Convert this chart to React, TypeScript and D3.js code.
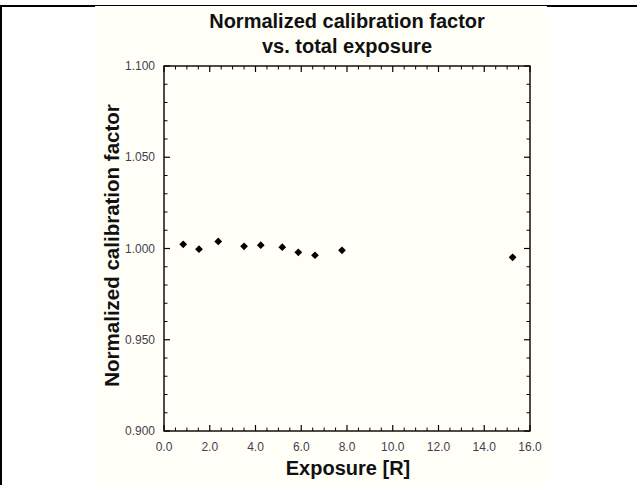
import React from "react"
import * as d3 from "d3"

const WIDTH = 637
const HEIGHT = 485

// exposure [R] and normalized calibration factor
const exposure = [0.84, 1.53, 2.37, 3.5, 4.23, 5.17, 5.87, 6.6, 7.78, 15.24]
const calFactor = [1.0023, 0.9996, 1.0039, 1.0012, 1.0018, 1.0007, 0.9979, 0.9963, 0.999, 0.9952]

const xMajorTicks = [0, 2, 4, 6, 8, 10, 12, 14, 16]
const yMajorTicks = [0.9, 0.95, 1.0, 1.05, 1.1]

const titleLines = ["Normalized calibration factor", "vs. total exposure"]
const xLabel = "Exposure [R]"
const yLabel = "Normalized calibration factor"

const FONT = "'Liberation Sans', Arial, sans-serif"
const TICK_COLOR = "#3f3f50"

export default function App() {
  const margin = { top: 66, right: 107, bottom: 54, left: 164 }
  const innerW = WIDTH - margin.left - margin.right
  const innerH = HEIGHT - margin.top - margin.bottom

  const x = d3.scaleLinear().domain([0, 16]).range([0, innerW])
  const y = d3.scaleLinear().domain([0.9, 1.1]).range([innerH, 0])

  const xMinor = d3.range(0, 16.001, 0.5).filter(v => Math.abs(v % 2) > 1e-6)
  const yMinor = d3.range(0.9, 1.1001, 0.01).filter(v => {
    const r = Math.round(v * 1000) % 50
    return r !== 0
  })

  const diamond = d3.symbol().type(d3.symbolSquare).size(30)()

  const MAJ = 6
  const MIN = 3.5

  return (
    <svg
      width={WIDTH}
      height={HEIGHT}
      style={{ position: "absolute", left: 0, top: 0, display: "block", background: "#ffffff" }}
      fontFamily={FONT}
    >
      {/* cream picture area and frame */}
      <rect x={95} y={6} width={452} height={HEIGHT - 6} fill="#fffff8" />
      <line x1={0} x2={95} y1={6} y2={6} stroke="#000" strokeWidth={2} />
      <line x1={95} x2={547} y1={5.5} y2={5.5} stroke="#000" strokeWidth={1} />
      <line x1={547} x2={WIDTH} y1={6} y2={6} stroke="#000" strokeWidth={2} />
      <line x1={1} x2={1} y1={5} y2={HEIGHT} stroke="#000" strokeWidth={2} />

      {/* title */}
      {titleLines.map((t, i) => (
        <text
          key={t}
          x={margin.left + innerW / 2}
          y={28 + i * 25}
          textAnchor="middle"
          fontSize={20}
          fontWeight="bold"
          fill="#111"
        >
          {t}
        </text>
      ))}

      <g transform={`translate(${margin.left},${margin.top})`}>
        {/* frame */}
        <rect x={0} y={0} width={innerW} height={innerH} fill="none" stroke="#000" strokeWidth={1.4} />

        {/* x ticks, bottom and top, pointing inward */}
        {xMajorTicks.map(v => (
          <g key={"xm" + v}>
            <line x1={x(v)} x2={x(v)} y1={innerH} y2={innerH - MAJ} stroke="#000" strokeWidth={1.2} />
            <line x1={x(v)} x2={x(v)} y1={0} y2={MAJ} stroke="#000" strokeWidth={1.2} />
            <text
              x={x(v)}
              y={innerH + 20}
              textAnchor="middle"
              fontSize={12}
              fill={TICK_COLOR}
            >
              {v.toFixed(1)}
            </text>
          </g>
        ))}
        {xMinor.map(v => (
          <g key={"xn" + v}>
            <line x1={x(v)} x2={x(v)} y1={innerH} y2={innerH - MIN} stroke="#000" strokeWidth={1} />
            <line x1={x(v)} x2={x(v)} y1={0} y2={MIN} stroke="#000" strokeWidth={1} />
          </g>
        ))}

        {/* y ticks, left and right, pointing inward */}
        {yMajorTicks.map(v => (
          <g key={"ym" + v}>
            <line x1={0} x2={MAJ} y1={y(v)} y2={y(v)} stroke="#000" strokeWidth={1.2} />
            <line x1={innerW} x2={innerW - MAJ} y1={y(v)} y2={y(v)} stroke="#000" strokeWidth={1.2} />
            <text
              x={-9}
              y={y(v)}
              textAnchor="end"
              dominantBaseline="central"
              fontSize={12}
              fill={TICK_COLOR}
            >
              {v.toFixed(3)}
            </text>
          </g>
        ))}
        {yMinor.map(v => (
          <g key={"yn" + v}>
            <line x1={0} x2={MIN} y1={y(v)} y2={y(v)} stroke="#000" strokeWidth={1} />
            <line x1={innerW} x2={innerW - MIN} y1={y(v)} y2={y(v)} stroke="#000" strokeWidth={1} />
          </g>
        ))}

        {/* points */}
        {exposure.map((e, i) => (
          <path
            key={i}
            d={diamond}
            transform={`translate(${x(e)},${y(calFactor[i])}) rotate(45)`}
            fill="#000"
          />
        ))}

        {/* axis titles */}
        <text
          x={innerW / 2 + 1}
          y={innerH + 44}
          textAnchor="middle"
          fontSize={20}
          fontWeight="bold"
          fill="#111"
        >
          {xLabel}
        </text>
        <text
          transform={`translate(${-45},${innerH / 2 - 3}) rotate(-90)`}
          textAnchor="middle"
          fontSize={20.5}
          fontWeight="bold"
          fill="#111"
        >
          {yLabel}
        </text>
      </g>
    </svg>
  )
}
